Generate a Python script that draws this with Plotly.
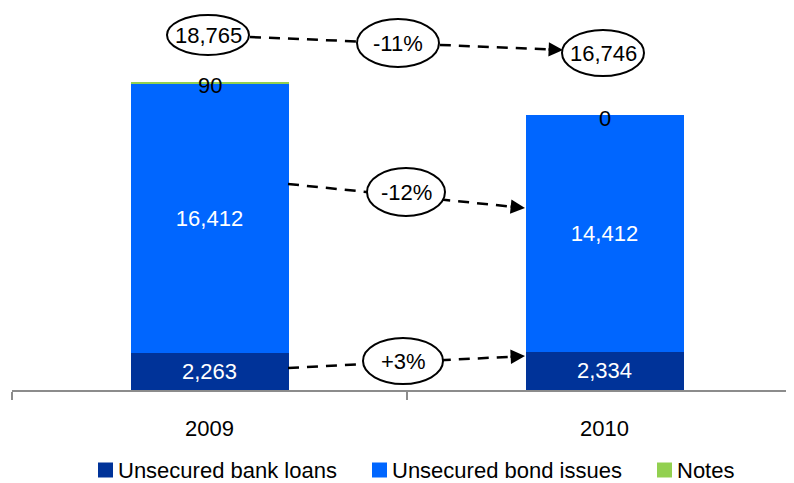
import plotly.graph_objects as go

# ---- data ----
years = ["2009", "2010"]
series_names = ["Unsecured bank loans", "Unsecured bond issues", "Notes"]
bank_loans = [2263, 2334]
bond_issues = [16412, 14412]
notes = [90, 0]
colors = ["#003399", "#0066FF", "#92D050"]

totals = [b + s + n for b, s, n in zip(bank_loans, bond_issues, notes)]

FONT = "Liberation Sans, Arial, sans-serif"
FS = 22

# ---- geometry (pixels, in page coordinates; page body has an 8px margin) ----
OFF = 8
W, H = 794 - OFF, 483 - OFF
ML, MR, MT, MB = 12 - OFF, 0, 0, 93
PW, PH = W - ML - MR, H - MT - MB
CAT_PX = 395
XR = [-0.5, -0.5 + PW / CAT_PX]
YMAX = 18765 * PH / 308.0
YR = [0, YMAX]


def px2x(px):
    return XR[0] + (px - OFF - ML) / CAT_PX


def py2y(py):
    return (MT + PH - (py - OFF)) * YMAX / PH


fig = go.Figure()
for name, vals, col, show_text in [
    (series_names[0], bank_loans, colors[0], True),
    (series_names[1], bond_issues, colors[1], True),
    (series_names[2], notes, colors[2], False),
]:
    fig.add_trace(go.Bar(
        x=years, y=vals, name=name, marker=dict(color=col, line=dict(width=0)),
        width=0.4,
        text=[f"{v:,}" for v in vals] if show_text else None,
        textposition="inside" if show_text else "none",
        insidetextanchor="middle", constraintext="none",
        textfont=dict(color="white", size=FS, family=FONT),
        showlegend=False, hoverinfo="skip",
    ))

shapes = []
annotations = []

# labels for Notes segments (black, at top of stack)
for i, y in enumerate(years):
    annotations.append(dict(x=i, y=totals[i], text=f"{notes[i]:,}", showarrow=False,
                            yshift=-3, font=dict(color="black", size=FS, family=FONT)))

# dashed connector lines with arrowheads (reference page pixels)
conns = [
    ((250, 37), (563, 50)),
    ((288, 184), (525, 208)),
    ((288, 368), (525, 356)),
]
for (x0, y0), (x1, y1) in conns:
    dx, dy = x1 - x0, y1 - y0
    L = (dx * dx + dy * dy) ** 0.5
    ux, uy = dx / L, dy / L
    ex, ey = x1 - ux * 10, y1 - uy * 10
    shapes.append(dict(type="line", xref="x", yref="y", x0=px2x(x0), y0=py2y(y0),
                       x1=px2x(ex), y1=py2y(ey),
                       line=dict(color="black", width=2.5, dash="11px,8px"), layer="above"))
    annotations.append(dict(x=px2x(x1), y=py2y(y1), xref="x", yref="y", text="",
                            showarrow=True, arrowhead=2, arrowsize=1.15, arrowwidth=2.5,
                            arrowcolor="black", ax=-ux * 16, ay=-uy * 16, standoff=0))

# bubbles
pct = [
    round((totals[1] / totals[0] - 1) * 100),
    round((bond_issues[1] / bond_issues[0] - 1) * 100),
    round((bank_loans[1] / bank_loans[0] - 1) * 100),
]
bubbles = [
    (208, 35, 41, 20, f"{totals[0]:,}"),
    (603, 53, 41, 23, f"{totals[1]:,}"),
    (398, 43, 41, 24, f"{pct[0]:+d}%"),
    (406, 192, 39, 24, f"{pct[1]:+d}%"),
    (403, 361, 40, 23, f"{pct[2]:+d}%"),
]
for cx, cy, rx, ry, txt in bubbles:
    shapes.append(dict(type="circle", xref="x", yref="y",
                       xsizemode="pixel", xanchor=px2x(cx), x0=-rx, x1=rx,
                       ysizemode="pixel", yanchor=py2y(cy), y0=-ry, y1=ry,
                       fillcolor="white", line=dict(color="black", width=2), layer="above"))
    annotations.append(dict(x=px2x(cx), y=py2y(cy), xref="x", yref="y", text=txt,
                            showarrow=False, font=dict(color="black", size=FS, family=FONT)))

# manual legend (reference page pixels)
leg_items = [(98, series_names[0], colors[0]), (372, series_names[1], colors[1]),
             (657, series_names[2], colors[2])]
LEG_Y = 470


def pxp(px):
    return (px - OFF - ML) / PW


def pyp(py):
    return (MT + PH - (py - OFF)) / PH


for lx, name, col in leg_items:
    shapes.append(dict(type="rect", xref="paper", yref="paper",
                       x0=pxp(lx), x1=pxp(lx + 15),
                       y0=pyp(LEG_Y + 7.5), y1=pyp(LEG_Y - 7.5),
                       fillcolor=col, line=dict(width=0)))
    annotations.append(dict(x=pxp(lx + 18), y=pyp(LEG_Y), xref="paper",
                            yref="paper", text=name, showarrow=False, xanchor="left",
                            yanchor="middle", font=dict(color="black", size=FS, family=FONT)))

fig.update_layout(
    width=W, height=H, barmode="stack",
    margin=dict(l=ML, r=MR, t=MT, b=MB),
    paper_bgcolor="white", plot_bgcolor="white",
    xaxis=dict(type="category", range=XR, showline=True, linecolor="#8c8c8c", linewidth=1.5,
               ticks="outside", tickson="boundaries", ticklen=8, tickcolor="#8c8c8c",
               tickwidth=1.5, showgrid=False, ticklabelstandoff=18,
               tickfont=dict(color="black", size=FS, family=FONT)),
    yaxis=dict(range=YR, visible=False, showgrid=False),
    shapes=shapes, annotations=annotations,
)

fig.write_html("out.html")
